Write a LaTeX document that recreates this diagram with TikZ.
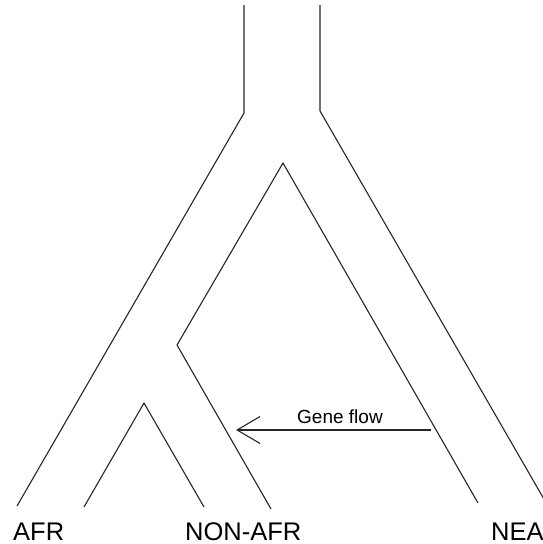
\documentclass[tikz,border=0pt]{standalone}
\usepackage{fontspec}
\setmainfont{Liberation Sans}
\usetikzlibrary{arrows.meta}
\begin{document}
\begin{tikzpicture}[x=1pt,y=-1pt,
  branch/.style={draw=black!85,line width=1.1pt,line join=miter},
  lbl/.style={anchor=base west,inner sep=0pt,font=\fontsize{25.5}{29}\selectfont},
  flowlbl/.style={anchor=base west,inner sep=0pt,font=\fontsize{19}{22}\selectfont},
  flow/.style={draw=black!85,line width=1.1pt,-{Straight Barb[length=23pt,width=27pt,line width=1.1pt]}}]
\useasboundingbox (0,0) rectangle (542,544);
% coordinates
\coordinate (tl) at (244,5);
\coordinate (kl) at (244,113);
\coordinate (afrL) at (17,506);
\coordinate (tr) at (320,5);
\coordinate (kr) at (320,111);
\coordinate (neaR) at (552,513);
\coordinate (apex) at (283,163);
\coordinate (elbow) at (177,345);
\coordinate (nonR) at (271,509);
\coordinate (neaL) at (478,503);
\coordinate (sapex) at (144,403);
\coordinate (afrR) at (84,507);
\coordinate (nonL) at (204,507);
\coordinate (gfs) at (431,430);
\coordinate (gfe) at (236,430);
% branches
\draw[branch] (tl) -- (kl) -- (afrL);
\draw[branch] (tr) -- (kr) -- (neaR);
\draw[branch] (nonR) -- (elbow) -- (apex) -- (neaL);
\draw[branch] (afrR) -- (sapex) -- (nonL);
% gene flow
\draw[flow] (gfs) -- (gfe);
\node[flowlbl] (gf) at (297,423) {Gene flow};
% labels
\node[lbl] (afr) at (13,540) {AFR};
\node[lbl] (non) at (185,540) {NON-AFR};
\node[lbl] (nea) at (491,540) {NEA};
\end{tikzpicture}
\end{document}
